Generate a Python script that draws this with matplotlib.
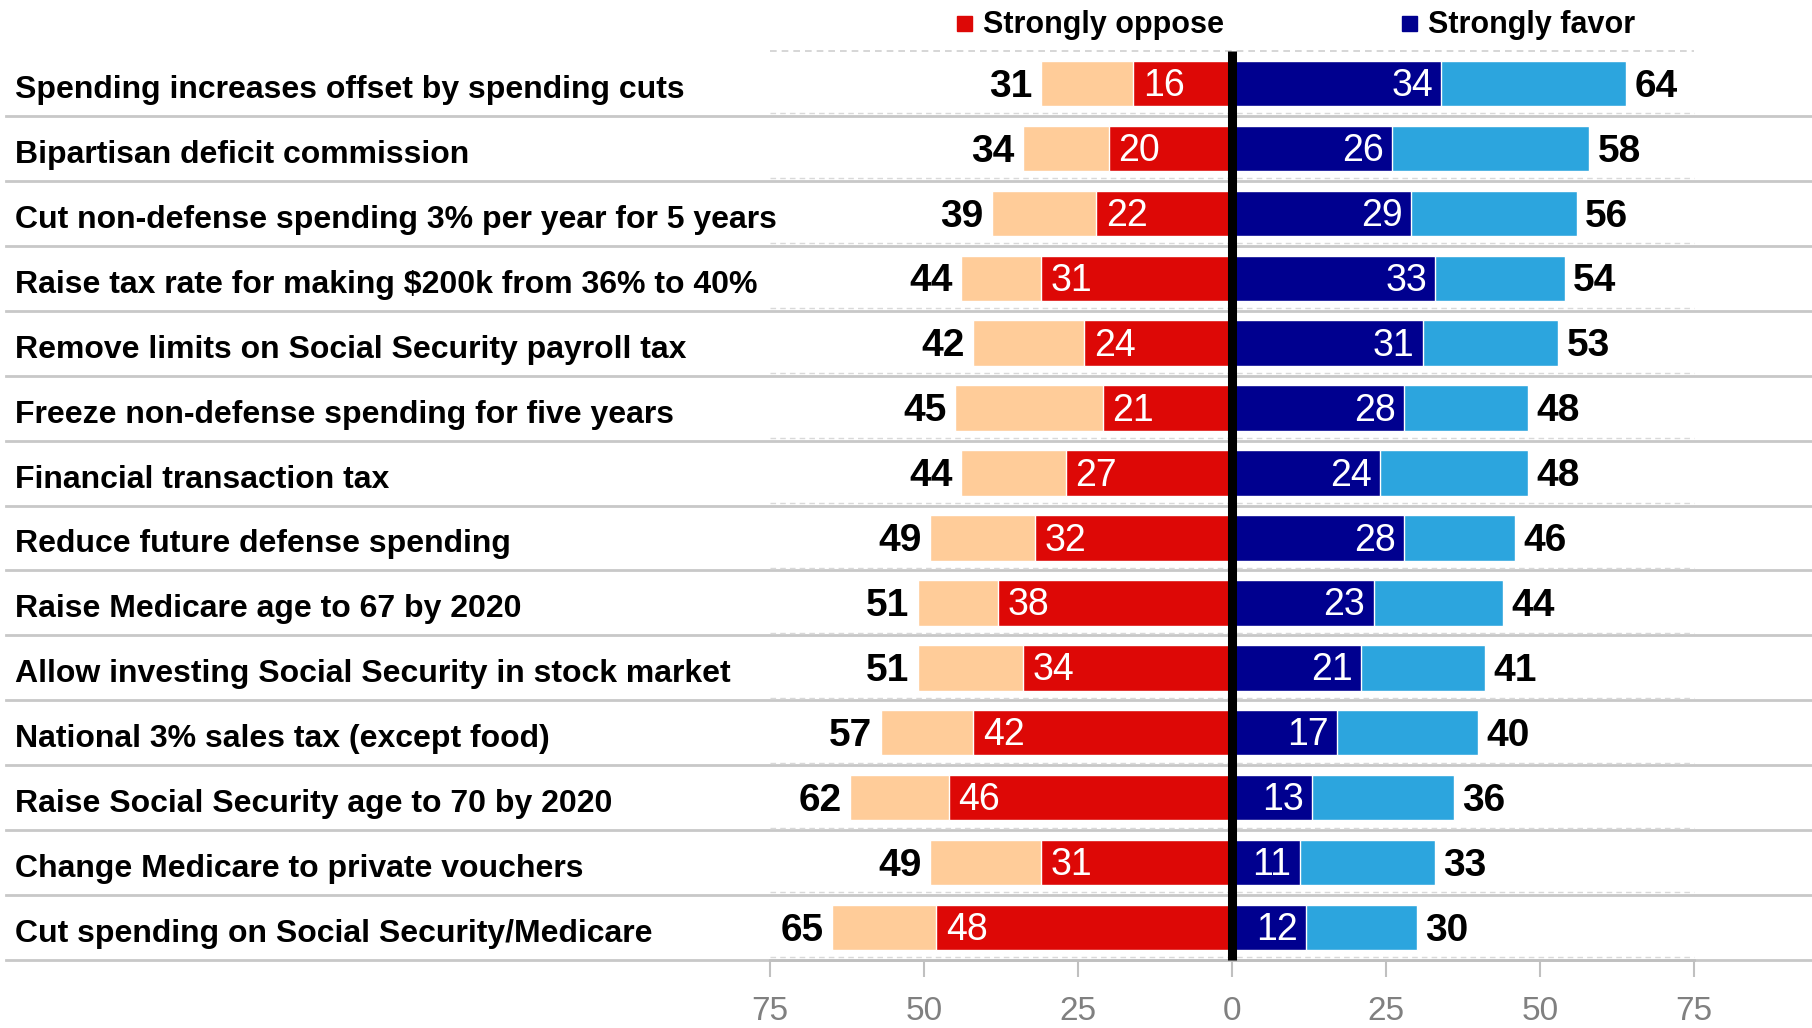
import numpy as np
import matplotlib
matplotlib.use("Agg")
import matplotlib.pyplot as plt
from matplotlib.patches import Rectangle
from matplotlib.lines import Line2D
from matplotlib.transforms import blended_transform_factory

plt.rcParams['font.family'] = ['Liberation Sans', 'DejaVu Sans']

# --- Data (top to bottom) ---
items = [
    "Spending increases offset by spending cuts",
    "Bipartisan deficit commission",
    "Cut non-defense spending 3% per year for 5 years",
    "Raise tax rate for making $200k from 36% to 40%",
    "Remove limits on Social Security payroll tax",
    "Freeze non-defense spending for five years",
    "Financial transaction tax",
    "Reduce future defense spending",
    "Raise Medicare age to 67 by 2020",
    "Allow investing Social Security in stock market",
    "National 3% sales tax (except food)",
    "Raise Social Security age to 70 by 2020",
    "Change Medicare to private vouchers",
    "Cut spending on Social Security/Medicare",
]
oppose_total = [31, 34, 39, 44, 42, 45, 44, 49, 51, 51, 57, 62, 49, 65]
strongly_oppose = [16, 20, 22, 31, 24, 21, 27, 32, 38, 34, 42, 46, 31, 48]
strongly_favor = [34, 26, 29, 33, 31, 28, 24, 28, 23, 21, 17, 13, 11, 12]
favor_total = [64, 58, 56, 54, 53, 48, 48, 46, 44, 41, 40, 36, 33, 30]
tick_vals = [-75, -50, -25, 0, 25, 50, 75]

# --- Colours ---
LIGHT_OPP = '#FFCC99'
RED = '#DD0806'
NAVY = '#00008F'
LIGHT_FAV = '#2CA5DE'
GRID = '#C8C8C8'

fig = plt.figure(figsize=(18.12, 10.28), dpi=100)
ax = fig.add_axes([770 / 1812, 1 - 960 / 1028, 924 / 1812, 909 / 1028])

y = np.arange(len(items))
h = 0.7

ax.barh(y, [-v for v in oppose_total], height=h, color=LIGHT_OPP, edgecolor='white', linewidth=1, zorder=2)
ax.barh(y, [-v for v in strongly_oppose], height=h, color=RED, edgecolor='white', linewidth=1, zorder=3)
ax.barh(y, favor_total, height=h, color=LIGHT_FAV, edgecolor='white', linewidth=1, zorder=2)
ax.barh(y, strongly_favor, height=h, color=NAVY, edgecolor='white', linewidth=1, zorder=3)

ax.set_xlim(-75, 75)
ax.set_ylim(len(items) - 0.5, -0.5)

# centre line
ax.plot([0, 0], [-0.5, len(items) - 0.5], color='black', lw=6.5, zorder=5, solid_capstyle='butt', clip_on=False)

# separators across the whole width
trans = blended_transform_factory(fig.transFigure, ax.transData)
for i in range(len(items)):
    sep = i + 0.5
    ax.add_line(Line2D([6 / 1812, 1.0], [sep, sep], transform=trans, color=GRID, lw=2,
                       clip_on=False, zorder=1))
    ax.plot([-75, 75], [sep - 0.04, sep - 0.04], color='#D9D9D9', lw=1, ls=(0, (4, 3)),
            zorder=1, clip_on=False)
ax.plot([-75, 75], [-0.5, -0.5], color='#D0D0D0', lw=1.2, ls=(0, (4, 3)), zorder=1, clip_on=False)

# labels
for i, name in enumerate(items):
    ax.text(15 / 1812, i + 0.1, name, transform=trans, ha='left', va='center',
            fontsize=23, fontweight='bold', color='black')
    ax.annotate(str(oppose_total[i]), (-oppose_total[i], i + 0.05), xytext=(-6, 0),
                textcoords='offset points', ha='right', va='center',
                fontsize=28, fontweight='bold', color='black')
    ax.annotate(str(favor_total[i]), (favor_total[i], i + 0.05), xytext=(6, 0),
                textcoords='offset points', ha='left', va='center',
                fontsize=28, fontweight='bold', color='black')
    ax.annotate(str(strongly_oppose[i]), (-strongly_oppose[i], i + 0.04), xytext=(7, 0),
                textcoords='offset points', ha='left', va='center',
                fontsize=27, color='white', zorder=6)
    ax.annotate(str(strongly_favor[i]), (strongly_favor[i], i + 0.04), xytext=(-6, 0),
                textcoords='offset points', ha='right', va='center',
                fontsize=27, color='white', zorder=6)

# axis styling
for s in ['top', 'left', 'right']:
    ax.spines[s].set_visible(False)
ax.spines['bottom'].set_color('#C0C0C0')
ax.spines['bottom'].set_linewidth(2)
ax.set_yticks([])
ax.set_xticks(tick_vals)
ax.set_xticklabels([str(abs(v)) for v in tick_vals])
ax.tick_params(axis='x', direction='out', length=12, width=1.5, color='#C0C0C0',
               labelcolor='#808080', labelsize=24, pad=14)

# legend
fig.add_artist(Rectangle((957 / 1812, 1 - 31 / 1028), 15 / 1812, 15 / 1028,
                         transform=fig.transFigure, color=RED))
fig.text(983 / 1812, 1 - 25 / 1028, "Strongly oppose", ha='left', va='center',
         fontsize=22, fontweight='bold')
fig.add_artist(Rectangle((1402 / 1812, 1 - 31 / 1028), 15 / 1812, 15 / 1028,
                         transform=fig.transFigure, color=NAVY))
fig.text(1428 / 1812, 1 - 25 / 1028, "Strongly favor", ha='left', va='center',
         fontsize=22, fontweight='bold')

fig.savefig('out.png', dpi=100)
